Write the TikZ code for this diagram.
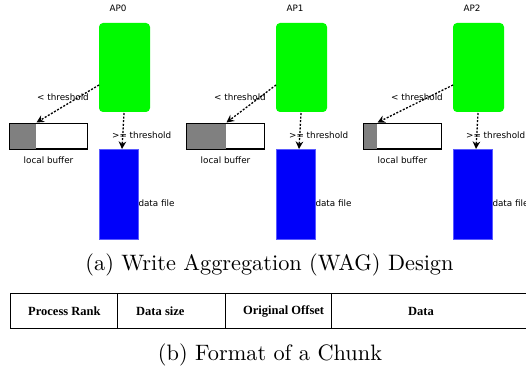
\documentclass[tikz,border=0pt]{standalone}
\usepackage{fontspec}
\newfontfamily\dv{DejaVu Sans}
\newfontfamily\tms{Liberation Serif}
\newfontfamily\lmten{lmroman10-regular.otf}
\usetikzlibrary{arrows.meta,calc}
\begin{document}
\begin{tikzpicture}[x=1pt,y=-1pt,
  lbl/.style={font=\dv\fontsize{8.8}{10}\selectfont, inner sep=0pt, text=black},
  apbox/.style={fill={rgb,255:red,0;green,250;blue,0}, rounded corners=4pt, draw=none},
  filebox/.style={fill={rgb,255:red,0;green,0;blue,250}, draw={rgb,255:red,90;green,90;blue,255}, line width=0.6pt},
  bufbox/.style={draw=black, line width=1pt, fill=white},
  flow/.style={draw=black, line width=1.3pt, dash pattern=on 2pt off 1.6pt, -{Stealth[length=7.5pt,width=7.5pt]}},
  cell/.style={font=\tms\bfseries\fontsize{12.5}{14}\selectfont, inner sep=0pt, anchor=west},
  captext/.style={font=\lmten\fontsize{22.3}{26}\selectfont, inner sep=0pt}
]
\useasboundingbox (0,0) rectangle (526,371);
\fill[white] (0,0) rectangle (526,371);

\foreach \i/\ox/\gw in {0/0/26, 1/177/39, 2/354/13}{
  % AP box
  \path[apbox] (99+\ox,23) rectangle (150+\ox,112);
  \coordinate (g\i) at (124.5+\ox,67.5);
  \node[lbl] (ap\i) at (118+\ox,8) {AP\i};
  % local buffer
  \node[bufbox, minimum width=77pt, minimum height=25pt, inner sep=0pt] (b\i) at (48.5+\ox,136.5) {};
  \fill[fill={rgb,255:red,128;green,128;blue,128}] ($(b\i.north west)+(0.5,0.5)$) rectangle ($(b\i.south west)+(\gw,-0.5)$);
  \draw[black, line width=1pt] (b\i.north west) rectangle (b\i.south east);
  \node[lbl] (lb\i) at (48.5+\ox,160) {local buffer};
  % data file
  \node[filebox, minimum width=39pt, minimum height=90pt, inner sep=0pt] (f\i) at (118.5+\ox,194) {};
  \node[lbl, anchor=west] (df\i) at (f\i.east) [yshift=-9pt] {data file};
  % connectors
  \coordinate (s\i) at (99+\ox,85);
  \coordinate (e\i) at ($(b\i.north west)+(\gw+1,-1)$);
  \draw[flow] (s\i) -- (e\i);
  \coordinate (d\i) at (124+\ox,113);
  \coordinate (t\i) at (122+\ox,149);
  \draw[flow] (d\i) -- (t\i);
  \node[lbl] (lt\i) at (63+\ox,97) {< threshold};
  \node[lbl, anchor=west] (ge\i) at (112+\ox,135) {>= threshold};
}

\node[captext] (capa) at (269.5,265) {(a) Write Aggregation (WAG) Design};

% chunk format table
\draw[black, line width=0.9pt] (10,293) -- (540,293);
\draw[black, line width=0.9pt] (10,328.5) -- (540,328.5);
\draw[black, line width=0.9pt] (10,293) -- (10,328.5);
\draw[black, line width=0.9pt] (117,293) -- (117,328.5);
\draw[black, line width=0.9pt] (225,293) -- (225,328.5);
\draw[black, line width=0.9pt] (331.5,293) -- (331.5,328.5);
\node[cell] (c1) at (28,311) {Process Rank};
\node[cell] (c2) at (136,311) {Data size};
\node[cell] (c3) at (243,311) {Original Offset};
\node[cell] (c4) at (408,311) {Data};

\node[captext] (capb) at (270,355) {(b) Format of a Chunk};
\end{tikzpicture}
\end{document}
